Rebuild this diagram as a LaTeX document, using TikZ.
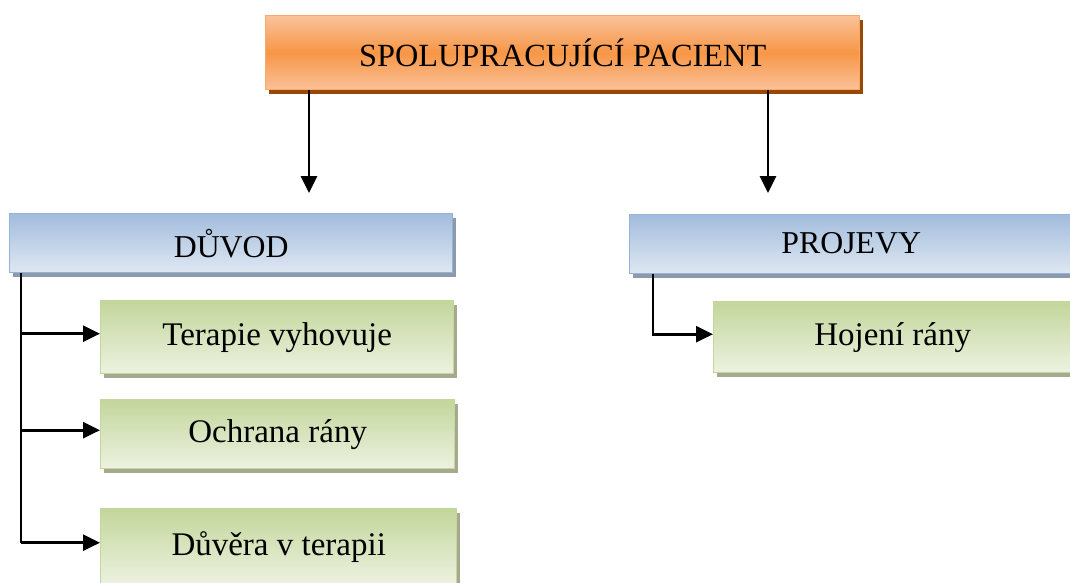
\documentclass[tikz,border=0pt]{standalone}
\usepackage{fontspec}
\setmainfont{Liberation Serif}
\usetikzlibrary{arrows.meta,shadows,calc}

\definecolor{orMid}{HTML}{F79646}
\definecolor{orLight}{HTML}{FAC29A}
\definecolor{orLine}{HTML}{F9A865}
\definecolor{orShadow}{HTML}{984807}
\definecolor{blTop}{HTML}{A2BCDC}
\definecolor{blBot}{HTML}{DFE8F3}
\definecolor{blLine}{HTML}{95B3D7}
\definecolor{blShadow}{HTML}{8D9AAB}
\definecolor{grTop}{HTML}{C3D69B}
\definecolor{grBot}{HTML}{EDF2E1}
\definecolor{grLine}{HTML}{C3D69B}
\definecolor{grShadow}{HTML}{A5AA8E}

\tikzset{
  basebox/.style={rectangle, inner sep=0pt, line width=1.4pt, anchor=north west},
  headbox/.style={basebox, draw=orLine, top color=orLight, bottom color=orLight,
    middle color=orMid, font=\fontsize{32.3}{36}\selectfont,
    drop shadow={shadow xshift=3.5pt, shadow yshift=-4.5pt, fill=orShadow, opacity=1}},
  catbox/.style={basebox, draw=blLine, top color=blTop, bottom color=blBot,
    font=\fontsize{31.8}{36}\selectfont,
    drop shadow={shadow xshift=3pt, shadow yshift=-4.5pt, fill=blShadow, opacity=1}},
  itembox/.style={basebox, draw=grLine, top color=grTop, bottom color=grBot,
    font=\fontsize{33}{36}\selectfont,
    drop shadow={shadow xshift=3pt, shadow yshift=-4pt, fill=grShadow, opacity=1}},
  trunk/.style={line width=2.8pt},
  conn/.style={trunk, -{Triangle[length=17pt,width=16pt]}},
}

\begin{document}
\begin{tikzpicture}[x=1pt,y=-1pt]
  \useasboundingbox (0,0) rectangle (1070,583);
  \clip (0,0) rectangle (1070,583);

  % root
  \node[headbox, minimum width=594pt, minimum height=74pt] (root) at (265,15)
    {SPOLUPRACUJÍCÍ PACIENT};

  % categories
  \node[catbox, minimum width=443pt, minimum height=59pt] (duvod) at (9,213) {DŮVOD};
  \node[catbox, minimum width=443pt, minimum height=59pt] (projevy) at (629,214)
    {\raisebox{3pt}{PROJEVY}};

  % items
  \node[itembox, minimum width=353pt, minimum height=73pt] (terapie) at (100,300)
    {Terapie vyhovuje};
  \node[itembox, minimum width=354pt, minimum height=69pt] (ochrana) at (100,399)
    {Ochrana rány};
  \node[itembox, minimum width=356pt, minimum height=76pt] (duvera) at (100,508)
    {Důvěra v terapii};
  \node[itembox, minimum width=358pt, minimum height=71pt] (hojeni) at (713,301)
    {Hojení rány};

  % free ends of the two top arrows, and the branch trunks
  \coordinate (tipL) at (309,193);
  \coordinate (tipR) at (768,193);
  \coordinate (trunkL) at (21,0);
  \coordinate (trunkR) at (653,0);

  \draw[conn] (root.south -| tipL) -- (tipL);
  \draw[conn] (root.south -| tipR) -- (tipR);

  \draw[trunk] (duvod.south -| trunkL) -- ([yshift=4pt]duvera.west -| trunkL);
  \draw[conn] ([yshift=3.5pt]terapie.west -| trunkL) -- ([yshift=3.5pt]terapie.west);
  \draw[conn] ([yshift=4pt]ochrana.west -| trunkL) -- ([yshift=4pt]ochrana.west);
  \draw[conn] ([yshift=4pt]duvera.west -| trunkL) -- ([yshift=4pt]duvera.west);

  \draw[conn] (projevy.south -| trunkR) |- ([yshift=3pt]hojeni.west);
\end{tikzpicture}
\end{document}
